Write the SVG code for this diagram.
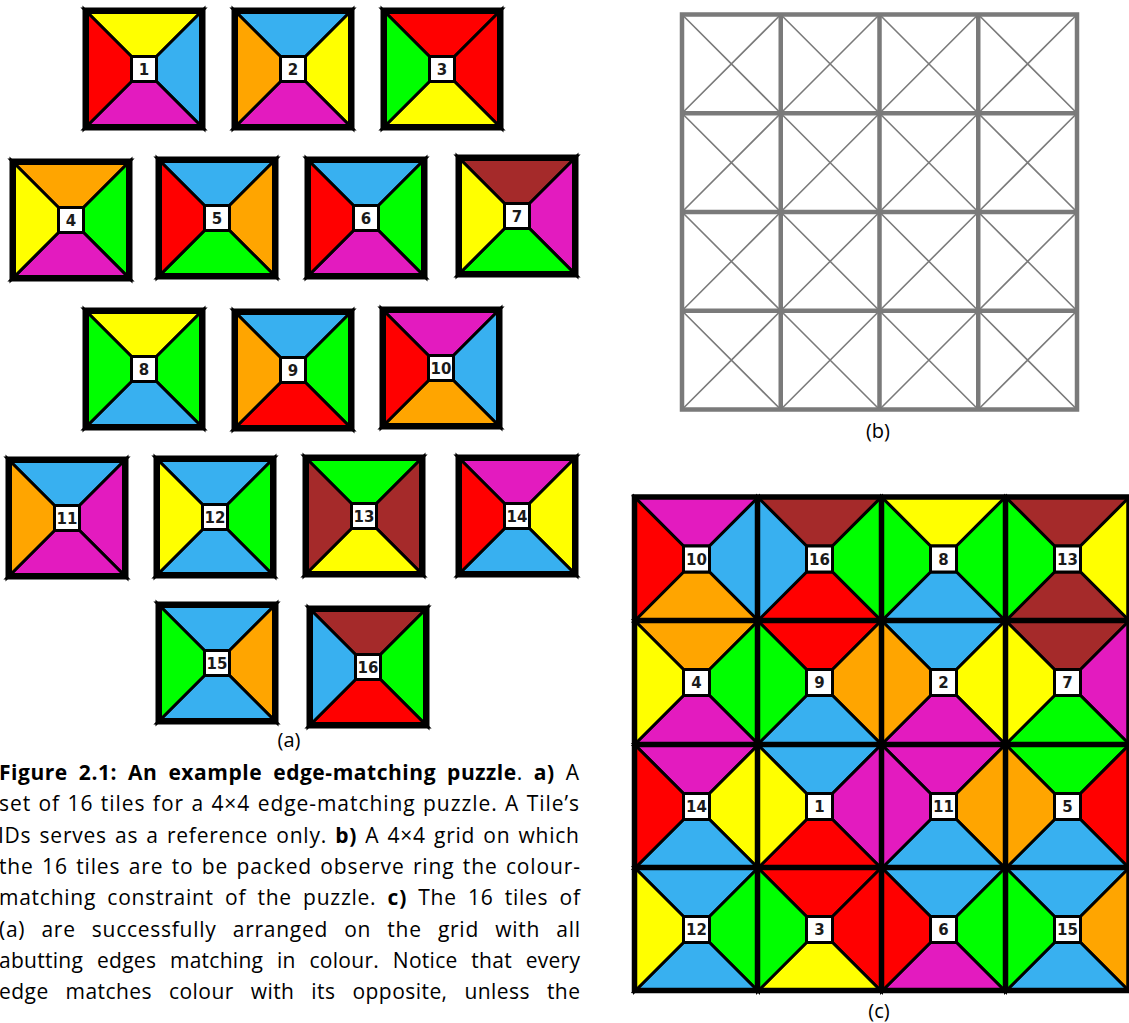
<svg xmlns="http://www.w3.org/2000/svg" xmlns:xlink="http://www.w3.org/1999/xlink" width="1129" height="1023" viewBox="0 0 1129 1023">
<style>
.Y{fill:#FFFF00}.B{fill:#38B0F0}.R{fill:#FF0000}.M{fill:#E31BBF}.O{fill:#FFA500}.G{fill:#00FF00}.N{fill:#A52A2A}
.tri{stroke:#000;stroke-width:3;stroke-linejoin:miter}
.frame{fill:none;stroke:#000;stroke-width:5}
.box{fill:#fff;stroke:#000;stroke-width:3}
.lbl{font-family:"DejaVu Sans",sans-serif;font-weight:bold;font-size:15px;fill:#1a1a1a;text-anchor:middle}
.cap{font-family:"Open Sans","Liberation Sans",sans-serif;font-size:21px;fill:#000}
.b{font-weight:bold}
.sub{font-family:"Open Sans","Liberation Sans",sans-serif;font-size:20px;fill:#000;text-anchor:middle}
.gb{stroke:#7a7a7a;stroke-width:4.5;fill:none}
.gd{stroke:#7a7a7a;stroke-width:1.6;fill:none}
.gc{stroke:#000;stroke-width:5.5;fill:none}
</style>
<defs>
<polygon id="aT" class="tri" points="0,0 120,0 72.5,47.5 47.5,47.5"/>
<polygon id="aR" class="tri" points="120,0 120,120 72.5,72.5 72.5,47.5"/>
<polygon id="aB" class="tri" points="120,120 0,120 47.5,72.5 72.5,72.5"/>
<polygon id="aL" class="tri" points="0,120 0,0 47.5,47.5 47.5,72.5"/>
<polygon id="cT" class="tri" points="0,0 124,0 75,49 49,49"/>
<polygon id="cR" class="tri" points="124,0 124,124 75,75 75,49"/>
<polygon id="cB" class="tri" points="124,124 0,124 49,75 75,75"/>
<polygon id="cL" class="tri" points="0,124 0,0 49,49 49,75"/>
</defs>
<rect width="1129" height="1023" fill="#fff"/>

<!-- (a) tiles -->
<g id="tile-1" transform="translate(84,9)"><use href="#aT" class="Y"/><use href="#aR" class="B"/><use href="#aB" class="M"/><use href="#aL" class="R"/><rect class="frame" x="2.5" y="2.5" width="115" height="115"/><rect class="box" x="47.5" y="47.5" width="25" height="25"/><text class="lbl" x="60" y="65.5">1</text></g>
<g id="tile-2" transform="translate(233,9)"><use href="#aT" class="B"/><use href="#aR" class="Y"/><use href="#aB" class="M"/><use href="#aL" class="O"/><rect class="frame" x="2.5" y="2.5" width="115" height="115"/><rect class="box" x="47.5" y="47.5" width="25" height="25"/><text class="lbl" x="60" y="65.5">2</text></g>
<g id="tile-3" transform="translate(382,9)"><use href="#aT" class="R"/><use href="#aR" class="R"/><use href="#aB" class="Y"/><use href="#aL" class="G"/><rect class="frame" x="2.5" y="2.5" width="115" height="115"/><rect class="box" x="47.5" y="47.5" width="25" height="25"/><text class="lbl" x="60" y="65.5">3</text></g>
<g id="tile-4" transform="translate(11,160)"><use href="#aT" class="O"/><use href="#aR" class="G"/><use href="#aB" class="M"/><use href="#aL" class="Y"/><rect class="frame" x="2.5" y="2.5" width="115" height="115"/><rect class="box" x="47.5" y="47.5" width="25" height="25"/><text class="lbl" x="60" y="65.5">4</text></g>
<g id="tile-5" transform="translate(157,158)"><use href="#aT" class="B"/><use href="#aR" class="O"/><use href="#aB" class="G"/><use href="#aL" class="R"/><rect class="frame" x="2.5" y="2.5" width="115" height="115"/><rect class="box" x="47.5" y="47.5" width="25" height="25"/><text class="lbl" x="60" y="65.5">5</text></g>
<g id="tile-6" transform="translate(306,158)"><use href="#aT" class="B"/><use href="#aR" class="G"/><use href="#aB" class="M"/><use href="#aL" class="R"/><rect class="frame" x="2.5" y="2.5" width="115" height="115"/><rect class="box" x="47.5" y="47.5" width="25" height="25"/><text class="lbl" x="60" y="65.5">6</text></g>
<g id="tile-7" transform="translate(457,156)"><use href="#aT" class="N"/><use href="#aR" class="M"/><use href="#aB" class="G"/><use href="#aL" class="Y"/><rect class="frame" x="2.5" y="2.5" width="115" height="115"/><rect class="box" x="47.5" y="47.5" width="25" height="25"/><text class="lbl" x="60" y="65.5">7</text></g>
<g id="tile-8" transform="translate(84,309)"><use href="#aT" class="Y"/><use href="#aR" class="G"/><use href="#aB" class="B"/><use href="#aL" class="G"/><rect class="frame" x="2.5" y="2.5" width="115" height="115"/><rect class="box" x="47.5" y="47.5" width="25" height="25"/><text class="lbl" x="60" y="65.5">8</text></g>
<g id="tile-9" transform="translate(233,310)"><use href="#aT" class="B"/><use href="#aR" class="G"/><use href="#aB" class="R"/><use href="#aL" class="O"/><rect class="frame" x="2.5" y="2.5" width="115" height="115"/><rect class="box" x="47.5" y="47.5" width="25" height="25"/><text class="lbl" x="60" y="65.5">9</text></g>
<g id="tile-10" transform="translate(381,308)"><use href="#aT" class="M"/><use href="#aR" class="B"/><use href="#aB" class="O"/><use href="#aL" class="R"/><rect class="frame" x="2.5" y="2.5" width="115" height="115"/><rect class="box" x="47.5" y="47.5" width="25" height="25"/><text class="lbl" x="60" y="65.5">10</text></g>
<g id="tile-11" transform="translate(7,458)"><use href="#aT" class="B"/><use href="#aR" class="M"/><use href="#aB" class="M"/><use href="#aL" class="O"/><rect class="frame" x="2.5" y="2.5" width="115" height="115"/><rect class="box" x="47.5" y="47.5" width="25" height="25"/><text class="lbl" x="60" y="65.5">11</text></g>
<g id="tile-12" transform="translate(155,457)"><use href="#aT" class="B"/><use href="#aR" class="G"/><use href="#aB" class="B"/><use href="#aL" class="Y"/><rect class="frame" x="2.5" y="2.5" width="115" height="115"/><rect class="box" x="47.5" y="47.5" width="25" height="25"/><text class="lbl" x="60" y="65.5">12</text></g>
<g id="tile-13" transform="translate(304,456)"><use href="#aT" class="G"/><use href="#aR" class="N"/><use href="#aB" class="Y"/><use href="#aL" class="N"/><rect class="frame" x="2.5" y="2.5" width="115" height="115"/><rect class="box" x="47.5" y="47.5" width="25" height="25"/><text class="lbl" x="60" y="65.5">13</text></g>
<g id="tile-14" transform="translate(457,456)"><use href="#aT" class="M"/><use href="#aR" class="Y"/><use href="#aB" class="B"/><use href="#aL" class="R"/><rect class="frame" x="2.5" y="2.5" width="115" height="115"/><rect class="box" x="47.5" y="47.5" width="25" height="25"/><text class="lbl" x="60" y="65.5">14</text></g>
<g id="tile-15" transform="translate(157,603)"><use href="#aT" class="B"/><use href="#aR" class="O"/><use href="#aB" class="B"/><use href="#aL" class="G"/><rect class="frame" x="2.5" y="2.5" width="115" height="115"/><rect class="box" x="47.5" y="47.5" width="25" height="25"/><text class="lbl" x="60" y="65.5">15</text></g>
<g id="tile-16" transform="translate(308,607)"><use href="#aT" class="N"/><use href="#aR" class="G"/><use href="#aB" class="R"/><use href="#aL" class="B"/><rect class="frame" x="2.5" y="2.5" width="115" height="115"/><rect class="box" x="47.5" y="47.5" width="25" height="25"/><text class="lbl" x="60" y="65.5">16</text></g>
<text id="label-a" class="sub" x="289" y="747">(a)</text>

<!-- (b) empty grid -->
<g id="grid-b">
<path class="gd" d="M682,14.5L780.75,113.25M780.75,14.5L682,113.25M780.75,14.5L879.5,113.25M879.5,14.5L780.75,113.25M879.5,14.5L978.25,113.25M978.25,14.5L879.5,113.25M978.25,14.5L1077,113.25M1077,14.5L978.25,113.25
M682,113.25L780.75,212M780.75,113.25L682,212M780.75,113.25L879.5,212M879.5,113.25L780.75,212M879.5,113.25L978.25,212M978.25,113.25L879.5,212M978.25,113.25L1077,212M1077,113.25L978.25,212
M682,212L780.75,310.75M780.75,212L682,310.75M780.75,212L879.5,310.75M879.5,212L780.75,310.75M879.5,212L978.25,310.75M978.25,212L879.5,310.75M978.25,212L1077,310.75M1077,212L978.25,310.75
M682,310.75L780.75,409.5M780.75,310.75L682,409.5M780.75,310.75L879.5,409.5M879.5,310.75L780.75,409.5M879.5,310.75L978.25,409.5M978.25,310.75L879.5,409.5M978.25,310.75L1077,409.5M1077,310.75L978.25,409.5"/>
<path class="gb" d="M780.75,14.5V409.5M879.5,14.5V409.5M978.25,14.5V409.5M682,113.25H1077M682,212H1077M682,310.75H1077"/>
<rect class="gb" x="682" y="14.5" width="395" height="395"/>
</g>
<text id="label-b" class="sub" x="878" y="438">(b)</text>

<!-- (c) solved grid -->
<g id="cell-10" transform="translate(634.5,497)"><use href="#cT" class="M"/><use href="#cR" class="B"/><use href="#cB" class="O"/><use href="#cL" class="R"/><rect class="box" x="49" y="49" width="26" height="26"/><text class="lbl" x="62" y="67.5">10</text></g>
<g id="cell-16" transform="translate(757.5,497)"><use href="#cT" class="N"/><use href="#cR" class="G"/><use href="#cB" class="R"/><use href="#cL" class="B"/><rect class="box" x="49" y="49" width="26" height="26"/><text class="lbl" x="62" y="67.5">16</text></g>
<g id="cell-8" transform="translate(881.5,497)"><use href="#cT" class="Y"/><use href="#cR" class="G"/><use href="#cB" class="B"/><use href="#cL" class="G"/><rect class="box" x="49" y="49" width="26" height="26"/><text class="lbl" x="62" y="67.5">8</text></g>
<g id="cell-13" transform="translate(1005.5,497)"><use href="#cT" class="N"/><use href="#cR" class="Y"/><use href="#cB" class="N"/><use href="#cL" class="G"/><rect class="box" x="49" y="49" width="26" height="26"/><text class="lbl" x="62" y="67.5">13</text></g>

<g id="cell-4" transform="translate(634.5,620.5)"><use href="#cT" class="O"/><use href="#cR" class="G"/><use href="#cB" class="M"/><use href="#cL" class="Y"/><rect class="box" x="49" y="49" width="26" height="26"/><text class="lbl" x="62" y="67.5">4</text></g>
<g id="cell-9" transform="translate(757.5,620.5)"><use href="#cT" class="R"/><use href="#cR" class="O"/><use href="#cB" class="B"/><use href="#cL" class="G"/><rect class="box" x="49" y="49" width="26" height="26"/><text class="lbl" x="62" y="67.5">9</text></g>
<g id="cell-2" transform="translate(881.5,620.5)"><use href="#cT" class="B"/><use href="#cR" class="Y"/><use href="#cB" class="M"/><use href="#cL" class="O"/><rect class="box" x="49" y="49" width="26" height="26"/><text class="lbl" x="62" y="67.5">2</text></g>
<g id="cell-7" transform="translate(1005.5,620.5)"><use href="#cT" class="N"/><use href="#cR" class="M"/><use href="#cB" class="G"/><use href="#cL" class="Y"/><rect class="box" x="49" y="49" width="26" height="26"/><text class="lbl" x="62" y="67.5">7</text></g>

<g id="cell-14" transform="translate(634.5,744.5)"><use href="#cT" class="M"/><use href="#cR" class="Y"/><use href="#cB" class="B"/><use href="#cL" class="R"/><rect class="box" x="49" y="49" width="26" height="26"/><text class="lbl" x="62" y="67.5">14</text></g>
<g id="cell-1" transform="translate(757.5,744.5)"><use href="#cT" class="B"/><use href="#cR" class="M"/><use href="#cB" class="R"/><use href="#cL" class="Y"/><rect class="box" x="49" y="49" width="26" height="26"/><text class="lbl" x="62" y="67.5">1</text></g>
<g id="cell-11" transform="translate(881.5,744.5)"><use href="#cT" class="M"/><use href="#cR" class="O"/><use href="#cB" class="B"/><use href="#cL" class="M"/><rect class="box" x="49" y="49" width="26" height="26"/><text class="lbl" x="62" y="67.5">11</text></g>
<g id="cell-5" transform="translate(1005.5,744.5)"><use href="#cT" class="G"/><use href="#cR" class="R"/><use href="#cB" class="B"/><use href="#cL" class="O"/><rect class="box" x="49" y="49" width="26" height="26"/><text class="lbl" x="62" y="67.5">5</text></g>

<g id="cell-12" transform="translate(634.5,867.5)"><use href="#cT" class="B"/><use href="#cR" class="G"/><use href="#cB" class="B"/><use href="#cL" class="Y"/><rect class="box" x="49" y="49" width="26" height="26"/><text class="lbl" x="62" y="67.5">12</text></g>
<g id="cell-3" transform="translate(757.5,867.5)"><use href="#cT" class="R"/><use href="#cR" class="R"/><use href="#cB" class="Y"/><use href="#cL" class="G"/><rect class="box" x="49" y="49" width="26" height="26"/><text class="lbl" x="62" y="67.5">3</text></g>
<g id="cell-6" transform="translate(881.5,867.5)"><use href="#cT" class="B"/><use href="#cR" class="G"/><use href="#cB" class="M"/><use href="#cL" class="R"/><rect class="box" x="49" y="49" width="26" height="26"/><text class="lbl" x="62" y="67.5">6</text></g>
<g id="cell-15" transform="translate(1005.5,867.5)"><use href="#cT" class="B"/><use href="#cR" class="O"/><use href="#cB" class="B"/><use href="#cL" class="G"/><rect class="box" x="49" y="49" width="26" height="26"/><text class="lbl" x="62" y="67.5">15</text></g>

<g id="grid-c">
<path class="gc" d="M757.5,497V990.5M881.5,497V990.5M1005.5,497V990.5M634.5,620.5H1129M634.5,744.5H1129M634.5,867.5H1129"/>
<rect class="gc" x="634.5" y="497" width="494.5" height="493.5"/>
</g>
<text id="label-c" class="sub" x="879" y="1018">(c)</text>

<g id="connectors"/>

<!-- caption -->
<g id="caption" class="cap">
<text x="-1" y="780" word-spacing="5" textLength="580" lengthAdjust="spacing"><tspan class="b">Figure 2.1: An example edge-matching puzzle</tspan>. <tspan class="b">a)</tspan> A</text>
<text x="-1" y="811.3" word-spacing="1" textLength="580" lengthAdjust="spacing">set of 16 tiles for a 4×4 edge-matching puzzle. A Tile’s</text>
<text x="-2" y="842.6" word-spacing="2" textLength="581" lengthAdjust="spacing">IDs serves as a reference only. <tspan class="b">b)</tspan> A 4×4 grid on which</text>
<text x="-1" y="873.9" word-spacing="2" textLength="581" lengthAdjust="spacing">the 16 tiles are to be packed observe ring the colour-</text>
<text x="-1" y="905.2" word-spacing="5" textLength="581" lengthAdjust="spacing">matching constraint of the puzzle. <tspan class="b">c)</tspan> The 16 tiles of</text>
<text x="-1" y="936.5" word-spacing="10" textLength="581" lengthAdjust="spacing">(a) are successfully arranged on the grid with all</text>
<text x="-1" y="967.8" word-spacing="8" textLength="581" lengthAdjust="spacing">abutting edges matching in colour. Notice that every</text>
<text x="-1" y="999.1" word-spacing="11" textLength="581" lengthAdjust="spacing">edge matches colour with its opposite, unless the</text>
</g>
</svg>
